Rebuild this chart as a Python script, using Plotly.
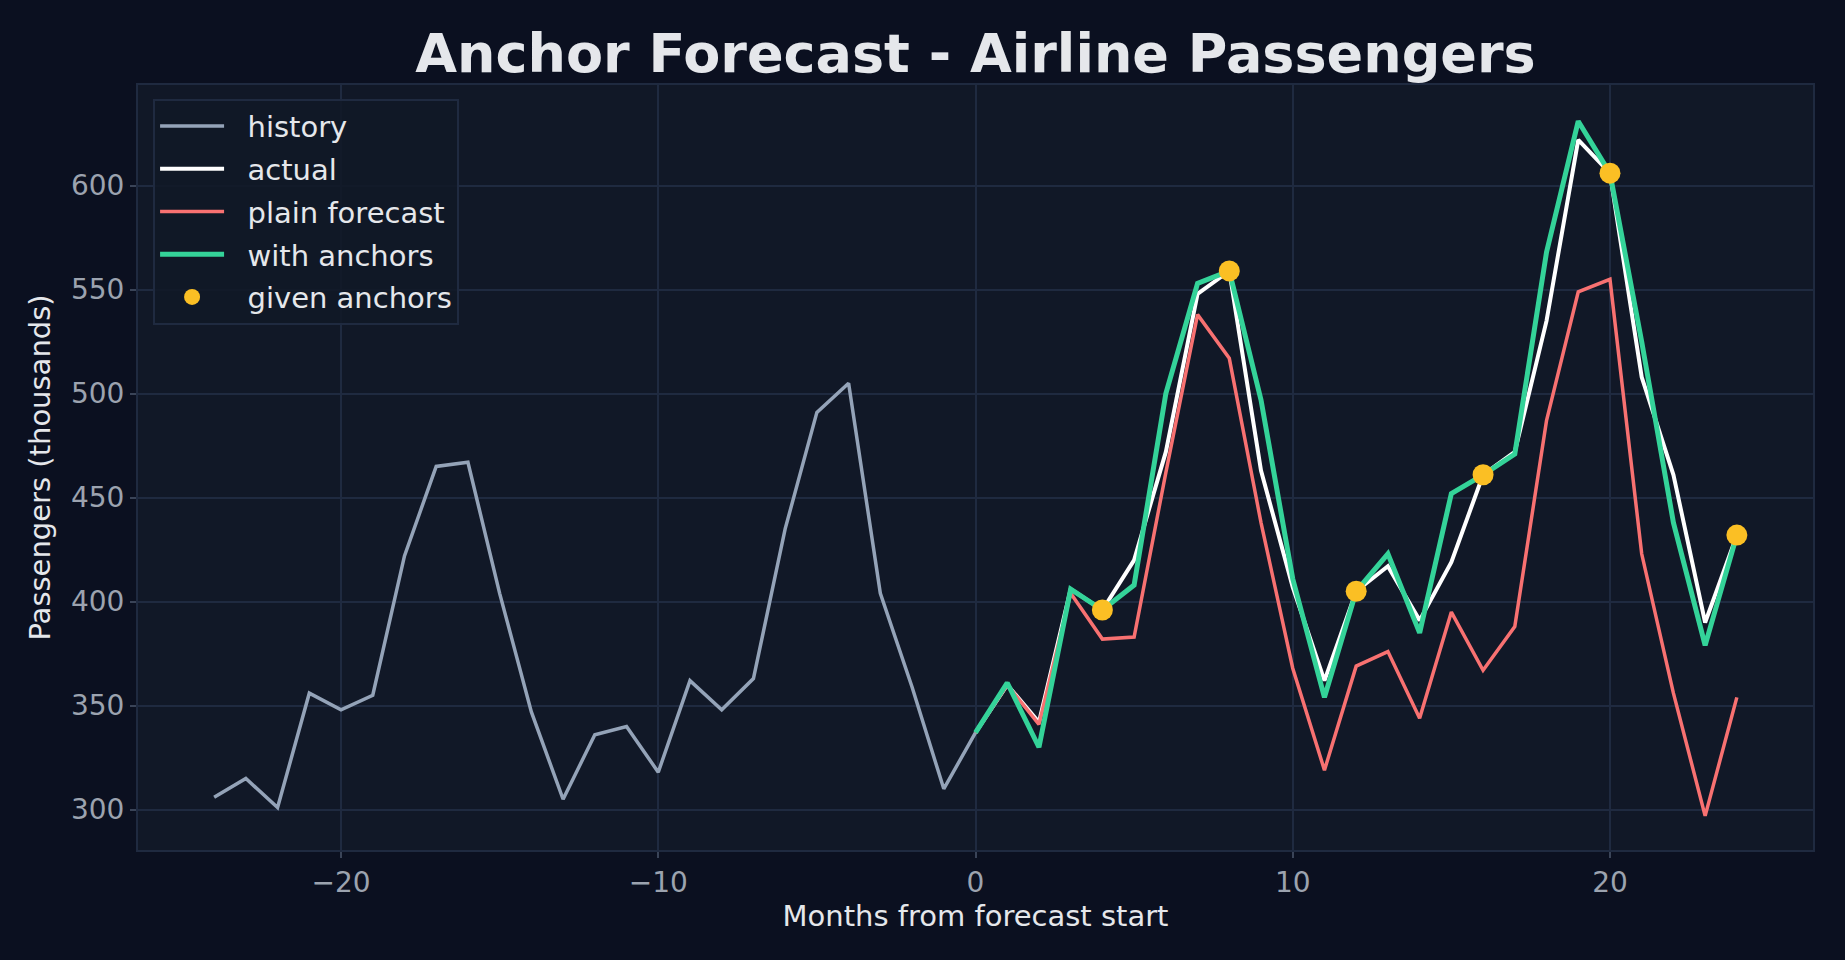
import plotly.graph_objects as go

# ---------------- data ----------------
hist_x = list(range(-24, 1))
hist_y = [306, 315, 301, 356, 348, 355, 422, 465, 467, 404, 347, 305, 336,
          340, 318, 362, 348, 363, 435, 491, 505, 404, 359, 310, 337]

fc_x = list(range(0, 25))
actual_y = [337, 360, 342, 406, 396, 420, 472, 548, 559, 463, 407, 362, 405,
            417, 391, 419, 461, 472, 535, 622, 606, 508, 461, 390, 432]
plain_y = [337, 360, 341, 404, 382, 383, 462, 538, 517, 438, 368, 319, 369,
           376, 344, 395, 367, 388, 487, 549, 555, 423, 356, 297, 354]
anchored_y = [337, 361, 330, 406, 396, 408, 500, 553, 559, 497, 411, 354, 405,
              423, 385, 452, 461, 471, 568, 631, 606, 525, 438, 379, 432]

anchor_x = [4, 8, 12, 16, 20, 24]
anchor_y = [396, 559, 405, 461, 606, 432]

x_ticks = [-20, -10, 0, 10, 20]
x_tick_text = ["\u221220", "\u221210", "0", "10", "20"]
y_ticks = [300, 350, 400, 450, 500, 550, 600]

series_names = ["history", "actual", "plain forecast", "with anchors", "given anchors"]

# ---------------- style ----------------
BG = "#0b1020"
PLOT_BG = "#111827"
GRID = "#1f2a40"
TICK_COL = "#9ca3af"
TEXT_COL = "#e5e7eb"
FONT = "DejaVu Sans"
PAD = "\u00a0\u00a0"

fig = go.Figure()
fig.add_trace(go.Scatter(x=hist_x, y=hist_y, mode="lines", name=PAD + series_names[0],
                         line=dict(color="#94a3b8", width=3.5), legendgroup="a"))
fig.add_trace(go.Scatter(x=fc_x, y=actual_y, mode="lines", name=PAD + series_names[1],
                         line=dict(color="#ffffff", width=4), legendgroup="b"))
fig.add_trace(go.Scatter(x=fc_x, y=plain_y, mode="lines", name=PAD + series_names[2],
                         line=dict(color="#f87171", width=3.5), legendgroup="c"))
fig.add_trace(go.Scatter(x=fc_x, y=anchored_y, mode="lines", name=PAD + series_names[3],
                         line=dict(color="#34d399", width=5), legendgroup="d"))
fig.add_trace(go.Scatter(x=anchor_x, y=anchor_y, mode="markers", name=PAD + series_names[4],
                         marker=dict(color="#fbbf24", size=21, line=dict(width=0)),
                         legendgroup="e"))

fig.update_layout(
    width=1845, height=960,
    paper_bgcolor=BG, plot_bgcolor=PLOT_BG,
    margin=dict(l=138, r=32, t=85, b=110),
    font=dict(family=FONT, color=TEXT_COL, size=26),
    title=dict(text="<b>Anchor Forecast - Airline Passengers</b>",
               font=dict(family=FONT, size=54, color=TEXT_COL),
               x=0.5, xref="paper", xanchor="center",
               y=1 - 53 / 960, yref="container", yanchor="middle"),
    showlegend=True,
    legend=dict(x=0.009, y=0.982, xanchor="left", yanchor="top",
                bgcolor="rgba(17,24,39,0.9)", bordercolor=GRID, borderwidth=2,
                font=dict(family=FONT, size=29, color=TEXT_COL),
                traceorder="grouped", tracegroupgap=2, itemwidth=64),
)

fig.update_xaxes(
    range=[-26.4, 26.4], tickmode="array", tickvals=x_ticks, ticktext=x_tick_text,
    showgrid=True, gridcolor=GRID, gridwidth=1.5, zeroline=False,
    showline=True, linecolor=GRID, linewidth=2, mirror=True,
    ticks="outside", ticklen=6, tickcolor="#3a4458", tickwidth=1.5,
    tickfont=dict(family=FONT, size=28, color=TICK_COL),
    title=dict(text="Months from forecast start",
               font=dict(family=FONT, size=29, color=TEXT_COL), standoff=7),
)
fig.update_yaxes(
    range=[280.6, 648.4], tickmode="array", tickvals=y_ticks,
    showgrid=True, gridcolor=GRID, gridwidth=1.5, zeroline=False,
    showline=True, linecolor=GRID, linewidth=2, mirror=True,
    ticks="outside", ticklen=6, tickcolor="#3a4458", tickwidth=1.5,
    tickfont=dict(family=FONT, size=28, color=TICK_COL),
    title=dict(text="Passengers (thousands)",
               font=dict(family=FONT, size=29, color=TEXT_COL), standoff=12),
)

fig.write_html("out.html")
